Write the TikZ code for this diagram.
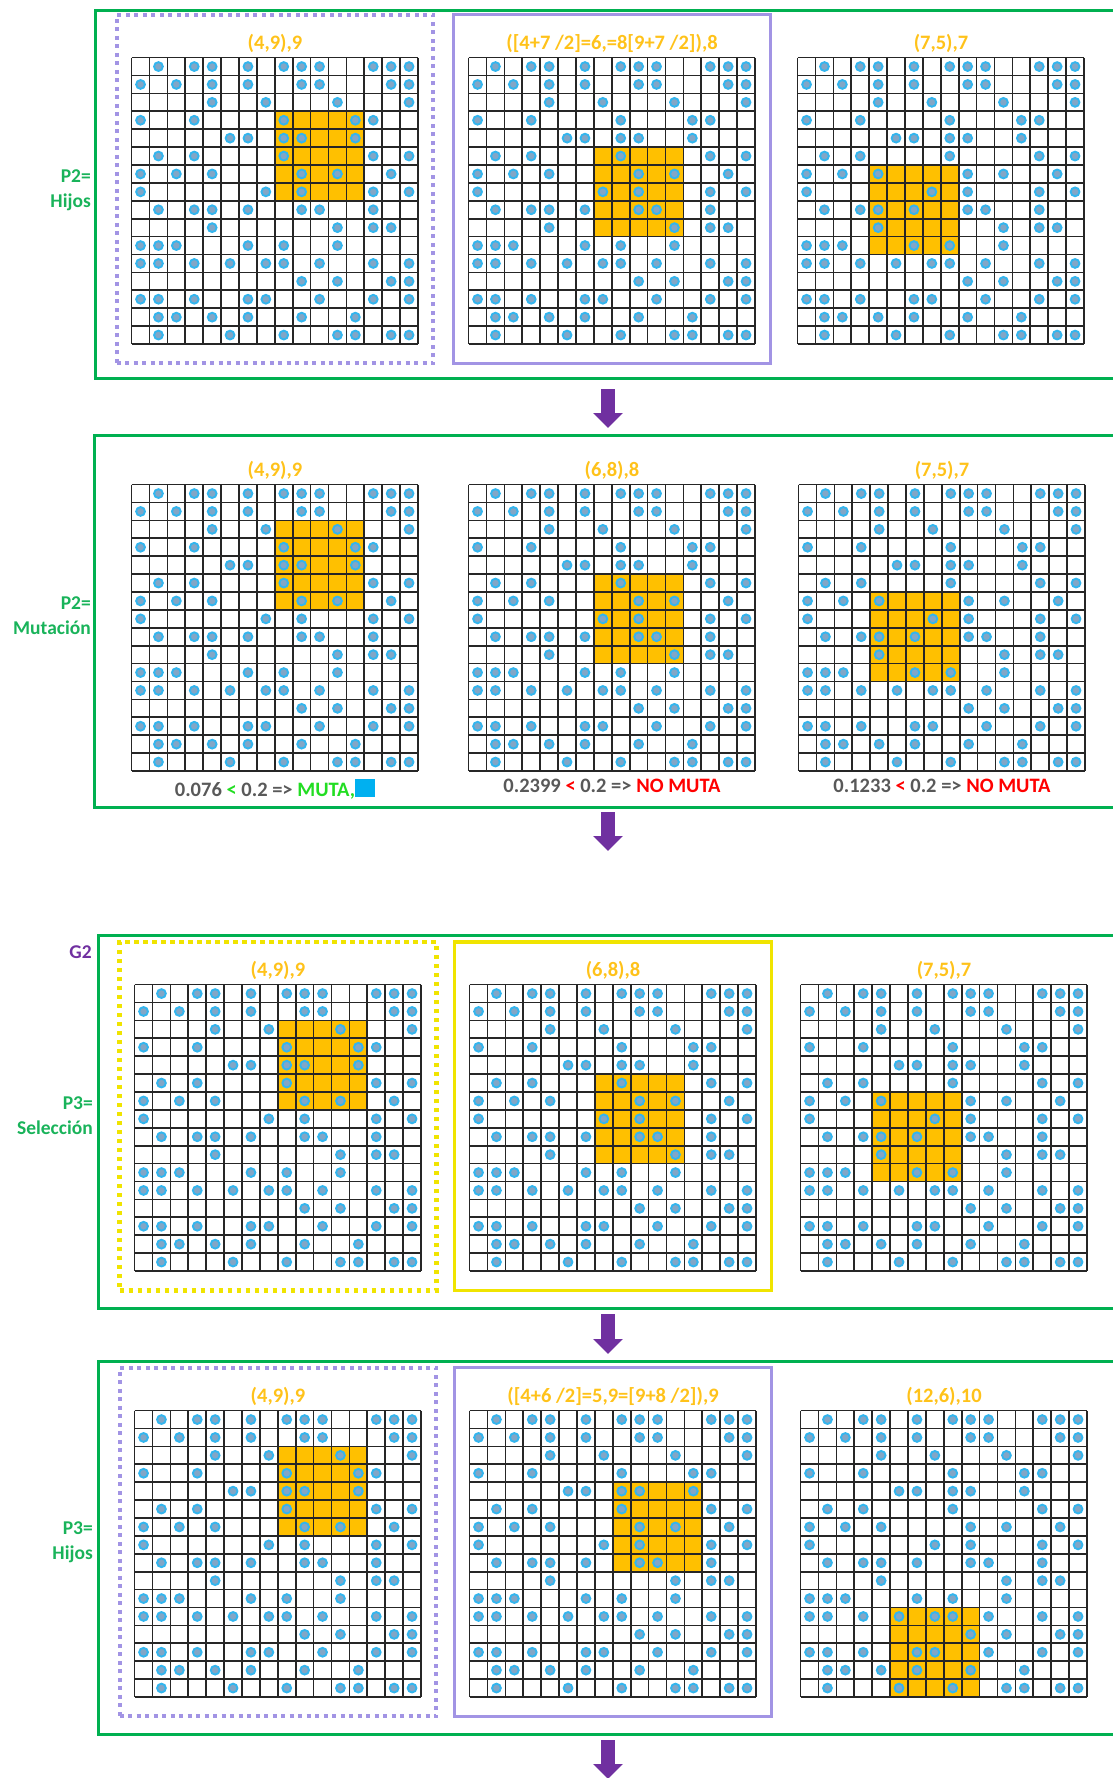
\documentclass[tikz,border=0pt]{standalone}
\usepackage{fontspec}
\setmainfont{Carlito}
\usepackage{tikz}
\usetikzlibrary{positioning, arrows.meta, fit}

\definecolor{verdemarco}{HTML}{00B050}
\definecolor{verdetexto}{HTML}{19B35A}
\definecolor{oro}{HTML}{FFC21A}
\definecolor{naranja}{HTML}{FFC000}
\definecolor{lila}{HTML}{A294E4}
\definecolor{amarillo}{HTML}{F0E400}
\definecolor{morado}{HTML}{7030A0}
\definecolor{azulpunto}{HTML}{33B5EE}
\definecolor{azulcentro}{HTML}{82A6C6}
\definecolor{azulcuadro}{HTML}{00B0F0}
\definecolor{grisnum}{HTML}{595959}
\definecolor{verdemuta}{HTML}{22DD22}
\definecolor{rojo}{HTML}{FF0000}

% lado de una celda y posiciones de los individuos
\newcommand{\lado}{17.9}
\newcommand{\puntos}{0/{1,3,4,6,8,9,10,13,14,15},1/{0,2,4,6,9,10,14,15},2/{4,7,11,15},3/{0,3,8,12,13},4/{5,6,8,9,12},5/{1,3,8,13,15},6/{0,2,4,9,11,14},7/{0,7,9,13,15},8/{1,3,4,6,9,10,13},9/{4,11,13,14},10/{0,1,2,6,8,11},11/{0,1,3,5,7,8,10,13,15},12/{9,11,14,15},13/{0,1,3,6,7,10,13,15},14/{1,2,4,6,9,12},15/{1,5,8,11,12,14,15}}

% #1 nodo, #2 columna y #3 fila del bloque naranja
\newcommand{\rejilla}[3]{%
  \begin{scope}[shift={(#1.north west)}]
    \fill[naranja] (#2*\lado,#3*\lado) rectangle ++(5*\lado,5*\lado);
    \foreach \i in {0,...,16} {
      \draw[linea] (\i*\lado,0) -- (\i*\lado,16*\lado);
      \draw[linea] (0,\i*\lado) -- (16*\lado,\i*\lado);
    }
    \foreach \fila/\cols in \puntos {
      \foreach \colu in \cols {
        \filldraw[punto] ({(\colu+0.5)*\lado},{(\fila+0.5)*\lado}) circle (4.4pt);
      }
    }
  \end{scope}}

\begin{document}
\begin{tikzpicture}[x=1pt, y=-1pt, node distance=5pt]
    % Estilos
    \tikzstyle{rej} = [minimum size=286.4pt, inner sep=0pt]
    \tikzstyle{linea} = [draw=black!85, line width=1.7pt]
    \tikzstyle{punto} = [draw=azulpunto, fill=azulcentro, line width=1.9pt]
    \tikzstyle{etq} = [font=\bfseries\fontsize{20.5}{24}\selectfont, text=oro, inner sep=0pt]
    \tikzstyle{prob} = [font=\bfseries\fontsize{20.5}{24}\selectfont, text=grisnum, inner sep=0pt]
    \tikzstyle{fase} = [font=\bfseries\fontsize{19.5}{25}\selectfont, text=verdetexto, align=right, anchor=east, inner sep=0pt]
    \tikzstyle{marco} = [draw=verdemarco, line width=3pt]
    \tikzstyle{padre} = [draw=lila, line width=4pt, dash pattern=on 4pt off 4.5pt, inner xsep=15pt, inner ysep=19pt]
    \tikzstyle{madre} = [draw=lila, line width=3pt, inner xsep=15pt, inner ysep=19pt]
    \tikzstyle{selpunt} = [draw=amarillo, line width=4.5pt, dash pattern=on 4.5pt off 4.5pt, inner xsep=15pt, inner ysep=19pt]
    \tikzstyle{sel} = [draw=amarillo, line width=3.5pt, inner xsep=15pt, inner ysep=19pt]
    \tikzstyle{flecha} = [color=morado, line width=14pt, -{Triangle[length=15pt, width=29pt]}]

    \useasboundingbox (0,0) rectangle (1112,1778);

    % Marcos
    \draw[marco] (1120,10) -| (95,378) -- (1120,378);
    \draw[marco] (1120,435) -| (94,807) -- (1120,807);
    \draw[marco] (1120,935) -| (98,1308) -- (1120,1308);
    \draw[marco] (1120,1361) -| (98,1734) -- (1120,1734);

    % Rejillas
    \node[rej] (a1) at (275,201) {};
    \node[rej] (a2) at (612,201) {};
    \node[rej] (a3) at (941,201) {};
    \node[rej] (b1) at (275,628) {};
    \node[rej] (b2) at (612,628) {};
    \node[rej] (b3) at (942,628) {};
    \node[rej] (c1) at (278,1128) {};
    \node[rej] (c2) at (613,1128) {};
    \node[rej] (c3) at (944,1128) {};
    \node[rej] (d1) at (278,1554) {};
    \node[rej] (d2) at (613,1554) {};
    \node[rej] (d3) at (944,1554) {};
    \rejilla{a1}{8}{3} \rejilla{a2}{7}{5} \rejilla{a3}{4}{6}
    \rejilla{b1}{8}{2} \rejilla{b2}{7}{5} \rejilla{b3}{4}{6}
    \rejilla{c1}{8}{2} \rejilla{c2}{7}{5} \rejilla{c3}{4}{6}
    \rejilla{d1}{8}{2} \rejilla{d2}{8}{4} \rejilla{d3}{5}{11}

    % Etiquetas
    \node[etq, above=of a1] (ea1) {(4,9),9};
    \node[etq, above=of a2] (ea2) {([4+7 /2]=6,=8[9+7 /2]),8};
    \node[etq, above=of a3] (ea3) {(7,5),7};
    \node[etq, above=of b1] (eb1) {(4,9),9};
    \node[etq, above=of b2] (eb2) {(6,8),8};
    \node[etq, above=of b3] (eb3) {(7,5),7};
    \node[etq, above=of c1] (ec1) {(4,9),9};
    \node[etq, above=of c2] (ec2) {(6,8),8};
    \node[etq, above=of c3] (ec3) {(7,5),7};
    \node[etq, above=of d1] (ed1) {(4,9),9};
    \node[etq, above=of d2] (ed2) {([4+6 /2]=5,9=[9+8 /2]),9};
    \node[etq, above=of d3] (ed3) {(12,6),10};
    \node[prob, below=7pt of b1] (pb1) {0.076 \textcolor{verdemuta}{<} 0.2 => \textcolor{verdemuta}{MUTA,}\textcolor{azulcuadro}{\rule{20pt}{18pt}}};
    \node[prob, below=7pt of b2] (pb2) {0.2399 \textcolor{rojo}{<} 0.2 => \textcolor{rojo}{NO MUTA}};
    \node[prob, below=7pt of b3] (pb3) {0.1233 \textcolor{rojo}{<} 0.2 => \textcolor{rojo}{NO MUTA}};

    \node[fase] (fa) at (91,190) {P2=\\Hijos};
    \node[fase] (fb) at (91,616) {P2=\\Mutación};
    \node[fase, text=morado] (gen) at (92,952) {G2};
    \node[fase] (fc) at (93,1116) {P3=\\Selección};
    \node[fase] (fd) at (93,1542) {P3=\\Hijos};

    % Padres
    \node[padre, fit=(a1)(ea1)] (pa1) {};
    \node[madre, fit=(a2)(ea2)] (pa2) {};
    \node[selpunt, fit=(c1)(ec1)] (pc1) {};
    \node[sel, fit=(c2)(ec2)] (pc2) {};
    \node[padre, fit=(d1)(ed1)] (pd1) {};
    \node[madre, fit=(d2)(ed2)] (pd2) {};

    % Flechas
    \coordinate (s1) at (608,389);  \coordinate (t1) at (608,428);
    \coordinate (s2) at (608,812);  \coordinate (t2) at (608,851);
    \coordinate (s3) at (608,1314); \coordinate (t3) at (608,1354);
    \coordinate (s4) at (608,1740); \coordinate (t4) at (608,1779);
    \draw[flecha] (s1) -- (t1);
    \draw[flecha] (s2) -- (t2);
    \draw[flecha] (s3) -- (t3);
    \draw[flecha] (s4) -- (t4);
\end{tikzpicture}
\end{document}
